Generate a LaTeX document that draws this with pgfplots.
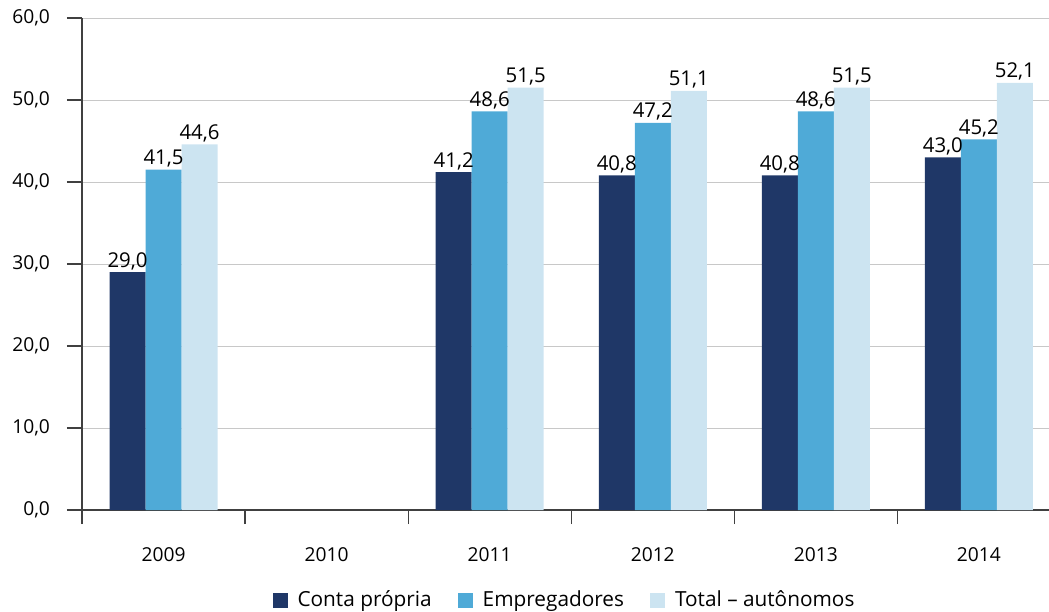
\documentclass[border=0pt]{standalone}
\usepackage{fontspec}
\setmainfont{Open Sans}
\usepackage{pgfplots}
\pgfplotsset{compat=1.18}

\definecolor{navy}{HTML}{1F3767}
\definecolor{midblue}{HTML}{4FAAD7}
\definecolor{lightblue}{HTML}{CCE4F1}
\definecolor{gridgray}{HTML}{C8C8C8}
\definecolor{axisgray}{HTML}{404040}

\begin{document}
\begin{tikzpicture}
\begin{axis}[
    name=ax,
    width=483.5pt, height=246pt,
    scale only axis,
    ybar=0pt, bar width=18pt,
    ymin=0, ymax=60,
    xmin=-0.5, xmax=5.43,
    axis lines*=left,
    axis line style={axisgray, line width=0.7pt},
    ytick={0,10,...,60},
    ymajorgrids, grid style={gridgray, line width=0.5pt},
    xtick={0,...,5},
    xticklabels={2009,2010,2011,2012,2013,2014},
    minor xtick={-0.5,0.5,...,4.5},
    major x tick style={draw=none},
    minor tick style={axisgray, line width=0.6pt},
    major tick style={axisgray, line width=0.6pt},
    tick align=outside,
    major tick length=7.5pt, minor tick length=7pt,
    xtick pos=bottom, ytick pos=left,
    tick label style={font=\fontsize{9.6}{11}\selectfont, text=black},
    xticklabel style={yshift=-8pt},
    yticklabel style={xshift=-5pt},
    /pgf/number format/.cd, use comma, fixed, fixed zerofill, precision=1, assume math mode=true,
    /pgfplots/.cd,
    nodes near coords,
    every node near coord/.append style={font=\fontsize{10.2}{12}\selectfont, text=black, inner sep=1pt,
        /pgf/number format/.cd, use comma, fixed, fixed zerofill, precision=1, assume math mode=true},
    legend style={draw=none, at={(0.5,-0.183)}, anchor=center,
        legend columns=3, font=\fontsize{10.4}{12}\selectfont,
        /tikz/every odd column/.append style={column sep=3pt},
        /tikz/every even column/.append style={column sep=11pt}},
    legend image code/.code={\fill[#1] (0pt,-3.75pt) rectangle (7.5pt,3.75pt);},
]
\addplot[fill=navy, draw=none] coordinates {(0,29.0) (2,41.2) (3,40.8) (4,40.8) (5,43.0)};
\addlegendentry{Conta própria}
\addplot[fill=midblue, draw=none] coordinates {(0,41.5) (2,48.6) (3,47.2) (4,48.6) (5,45.2)};
\addlegendentry{Empregadores}
\addplot[fill=lightblue, draw=none] coordinates {(0,44.6) (2,51.5) (3,51.1) (4,51.5) (5,52.1)};
\addlegendentry{Total – autônomos}
\end{axis}
\pgfresetboundingbox
\path (-41pt,-50.5pt) rectangle (483.5pt,255pt);
\end{tikzpicture}
\end{document}
